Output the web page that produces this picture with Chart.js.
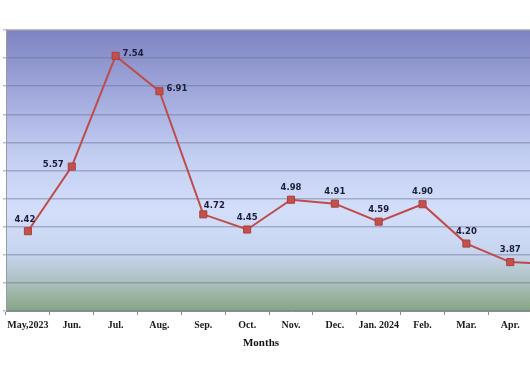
<!DOCTYPE html>
<html>
<head>
<meta charset="utf-8">
<script src="https://cdn.jsdelivr.net/npm/chart.js@4/dist/chart.umd.min.js"></script>
<style>
  html, body { margin: 0; padding: 0; background: #ffffff; overflow: hidden; width: 530px; height: 371px; }
  #wrap { position: absolute; left: 0; top: 0; width: 582px; height: 371px; }
</style>
</head>
<body>
<div id="wrap"><canvas id="c" width="582" height="371"></canvas></div>
<script>
// ---- data ----
const months = ['May,2023', 'Jun.', 'Jul.', 'Aug.', 'Sep.', 'Oct.', 'Nov.', 'Dec.', 'Jan. 2024', 'Feb.', 'Mar.', 'Apr.', 'May.'];
const rates = [4.42, 5.57, 7.54, 6.91, 4.72, 4.45, 4.98, 4.91, 4.59, 4.90, 4.20, 3.87, 3.83];
const yMin = 3;
const yMax = 8;
const yStep = 0.5;
const xTitle = 'Months';

// ---- plugins ----
const bgPlugin = {
  id: 'bgPlugin',
  beforeDraw(chart) {
    const { ctx, chartArea: a } = chart;
    ctx.save();
    ctx.fillStyle = '#ffffff';
    ctx.fillRect(0, 0, chart.width, chart.height);
    const g = ctx.createLinearGradient(0, a.top, 0, a.bottom);
    g.addColorStop(0.00, '#7d84c1');
    g.addColorStop(0.22, '#a0a8db');
    g.addColorStop(0.45, '#c3cef2');
    g.addColorStop(0.65, '#d3dffa');
    g.addColorStop(0.80, '#c7d4ee');
    g.addColorStop(0.90, '#aac0bd');
    g.addColorStop(1.00, '#87a484');
    ctx.fillStyle = g;
    ctx.fillRect(a.left, a.top, a.right - a.left, a.bottom - a.top);
    ctx.restore();
  }
};

const labelPlugin = {
  id: 'labelPlugin',
  afterDatasetsDraw(chart, args, opts) {
    const { ctx } = chart;
    const meta = chart.getDatasetMeta(0);
    const ds = chart.data.datasets[0].data;
    const offs = {
      above:      { dx: 0,   dy: -12, align: 'center' },
      aboveLeft:  { dx: -3,  dy: -11, align: 'center' },
      aboveRight: { dx: 11,  dy: -9,  align: 'center' },
      left:       { dx: -8,  dy: -2,  align: 'right' },
      right:      { dx: 7,   dy: -2,  align: 'left' }
    };
    ctx.save();
    ctx.font = 'bold 8.5px "DejaVu Sans", Verdana, sans-serif';
    ctx.fillStyle = '#1c1c3c';
    ctx.textBaseline = 'middle';
    meta.data.forEach((pt, i) => {
      const o = offs[opts.pos[i] || 'above'];
      ctx.textAlign = o.align;
      ctx.fillText(ds[i].toFixed(2), pt.x + o.dx, pt.y + o.dy);
    });
    // x-axis title
    ctx.font = 'bold 11px "Liberation Serif", "Times New Roman", serif';
    ctx.fillStyle = '#111111';
    ctx.textAlign = 'center';
    ctx.fillText(xTitle, opts.titleX, opts.titleY);
    // plot frame (top & left)
    const a = chart.chartArea;
    ctx.strokeStyle = '#9a9aa6';
    ctx.lineWidth = 1;
    ctx.beginPath();
    ctx.moveTo(a.left + 0.5, a.bottom);
    ctx.lineTo(a.left + 0.5, a.top + 0.5);
    ctx.lineTo(a.right, a.top + 0.5);
    ctx.stroke();
    ctx.restore();
  }
};

new Chart(document.getElementById('c'), {
  type: 'line',
  data: {
    labels: months,
    datasets: [{
      data: rates,
      borderColor: '#bf4b4b',
      borderWidth: 2,
      pointStyle: 'rect',
      pointRadius: 5,
      pointBackgroundColor: '#c4504d',
      pointBorderColor: '#a8403e',
      pointBorderWidth: 1,
      tension: 0,
      fill: false
    }]
  },
  options: {
    responsive: false,
    animation: false,
    devicePixelRatio: 1,
    layout: { padding: { top: 30, right: 3, left: 0, bottom: 0 } },
    plugins: {
      legend: { display: false },
      tooltip: { enabled: false },
      labelPlugin: {
        pos: ['aboveLeft', 'left', 'right', 'right', 'aboveRight', 'above', 'above', 'above', 'above', 'above', 'above', 'above', 'above'],
        titleX: 261,
        titleY: 343
      }
    },
    scales: {
      x: {
        type: 'category',
        offset: true,
        afterFit(s) { s.height = 60; },
        grid: { display: true, drawOnChartArea: false, offset: true, tickLength: 4, color: '#8c8c8c' },
        border: { display: true, color: '#8c8c8c' },
        ticks: {
          autoSkip: false,
          maxRotation: 0,
          padding: 4,
          color: '#1a1a1a',
          font: { family: '"Liberation Serif", "Times New Roman", serif', size: 10, weight: 'bold' }
        }
      },
      y: {
        min: yMin,
        max: yMax,
        afterFit(s) { s.width = 3; },
        ticks: { display: false, stepSize: yStep },
        grid: { color: 'rgba(105,110,150,0.45)', lineWidth: 1.5, tickLength: 3 },
        border: { display: false }
      }
    }
  },
  plugins: [bgPlugin, labelPlugin]
});
</script>
</body>
</html>
